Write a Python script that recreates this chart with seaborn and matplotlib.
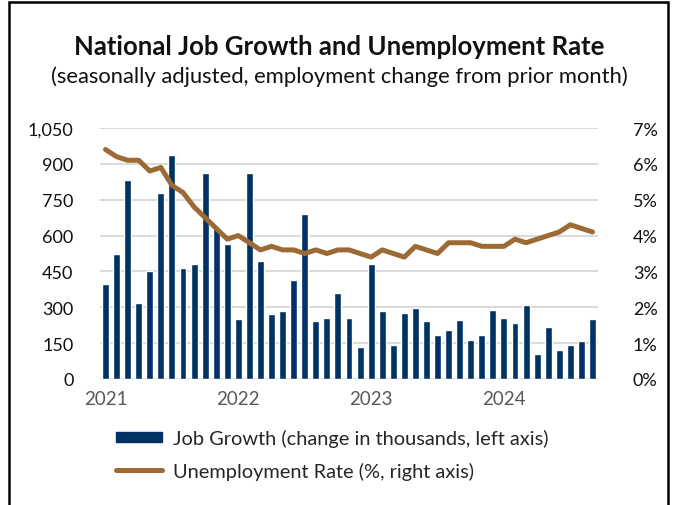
import matplotlib
matplotlib.use("Agg")
import matplotlib.pyplot as plt
import seaborn as sns
import pandas as pd
import numpy as np
from matplotlib.patches import Patch, Rectangle
from matplotlib.lines import Line2D
from matplotlib.ticker import FuncFormatter

months = pd.date_range("2021-01-01", "2024-09-01", freq="MS").strftime("%Y-%m").tolist()

job_growth = [398, 524, 831, 320, 451, 778, 939, 465, 481, 861, 631, 563,
              251, 861, 495, 270, 285, 416, 690, 242, 256, 359, 256, 134,
              479, 285, 144, 275, 299, 242, 183, 207, 246, 163, 183, 289,
              256, 236, 309, 103, 217, 120, 144, 159, 251]

unemployment = [6.4, 6.2, 6.1, 6.1, 5.8, 5.9, 5.4, 5.2, 4.8, 4.5, 4.2, 3.9,
                4.0, 3.8, 3.6, 3.7, 3.6, 3.6, 3.5, 3.6, 3.5, 3.6, 3.6, 3.5,
                3.4, 3.6, 3.5, 3.4, 3.7, 3.6, 3.5, 3.8, 3.8, 3.8, 3.7, 3.7,
                3.7, 3.9, 3.8, 3.9, 4.0, 4.1, 4.3, 4.2, 4.1]

year_labels = ["2021", "2022", "2023", "2024"]
left_ticks = [0, 150, 300, 450, 600, 750, 900, 1050]
right_ticks = [0, 1, 2, 3, 4, 5, 6, 7]

title = "National Job Growth and Unemployment Rate"
subtitle = "(seasonally adjusted, employment change from prior month)"
bar_label = "Job Growth (change in thousands, left axis)"
line_label = "Unemployment Rate (%, right axis)"

BAR = "#003263"
LINE = "#9C6A35"
GRID = "#d9d9d9"

sns.set_theme(style="white")
plt.rcParams["font.family"] = ["Lato", "DejaVu Sans"]

df = pd.DataFrame({"month": months, "jobs": job_growth, "rate": unemployment})
df["idx"] = np.arange(len(df))

fig = plt.figure(figsize=(6.73, 5.06), dpi=100)
ax = fig.add_axes([100/673, 1-380/506, 498/673, 251/506])

sns.barplot(data=df, x="idx", y="jobs", color=BAR, width=0.63, saturation=1,
            ax=ax, native_scale=True, zorder=2)
ax.set_xlim(-0.5, len(df) - 0.5)
ax.set_ylim(0, 1050)
ax.set_yticks(left_ticks)
ax.yaxis.set_major_formatter(FuncFormatter(lambda v, p: f"{int(v):,}"))
ax.grid(axis="y", color=GRID, lw=1.4, zorder=0)
ax.set_axisbelow(True)
ax.set_xticks([months.index(f"{y}-01") for y in year_labels])
ax.set_xticklabels(year_labels)
ax.set_xlabel("")
ax.set_ylabel("")
for s in ax.spines.values():
    s.set_visible(False)
ax.tick_params(axis="y", length=0, pad=19, labelsize=13, labelcolor="#111111")
ax.tick_params(axis="x", length=0, pad=8, labelsize=13.5, labelcolor="#595959")

ax2 = ax.twinx()
sns.lineplot(data=df, x="idx", y="rate", color=LINE, lw=3.6, ax=ax2,
             solid_capstyle="round", solid_joinstyle="round", zorder=3)
ax2.set_ylim(0, 7)
ax2.set_yticks(right_ticks)
ax2.yaxis.set_major_formatter(FuncFormatter(lambda v, p: f"{int(v)}%"))
ax2.set_ylabel("")
ax2.set_xlabel("")
for s in ax2.spines.values():
    s.set_visible(False)
ax2.tick_params(axis="y", length=0, pad=25, labelsize=13, labelcolor="#111111")
ax2.grid(False)

fig.text(0.504, 1-47/506, title, ha="center", va="center", fontsize=18.5,
         fontweight="bold", color="#111111")
fig.text(0.504, 1-77/506, subtitle, ha="center", va="center", fontsize=15.8,
         color="#111111")

handles = [Patch(facecolor=BAR, edgecolor=BAR),
           Line2D([0], [0], color=LINE, lw=3.6, solid_capstyle="round")]
fig.legend(handles, [bar_label, line_label], loc="upper left",
           bbox_to_anchor=(116/673, 1-430/506), frameon=False, fontsize=14.4,
           handlelength=2.3, handleheight=0.4, labelspacing=0.72,
           handletextpad=0.55, borderaxespad=0, borderpad=0)

fig.add_artist(Rectangle((9/673, -0.1), 659/673, 1.1 - 3/506, transform=fig.transFigure,
                         fill=False, edgecolor="black", lw=1.8, clip_on=False))

fig.savefig("out.png", dpi=100, facecolor="white")
